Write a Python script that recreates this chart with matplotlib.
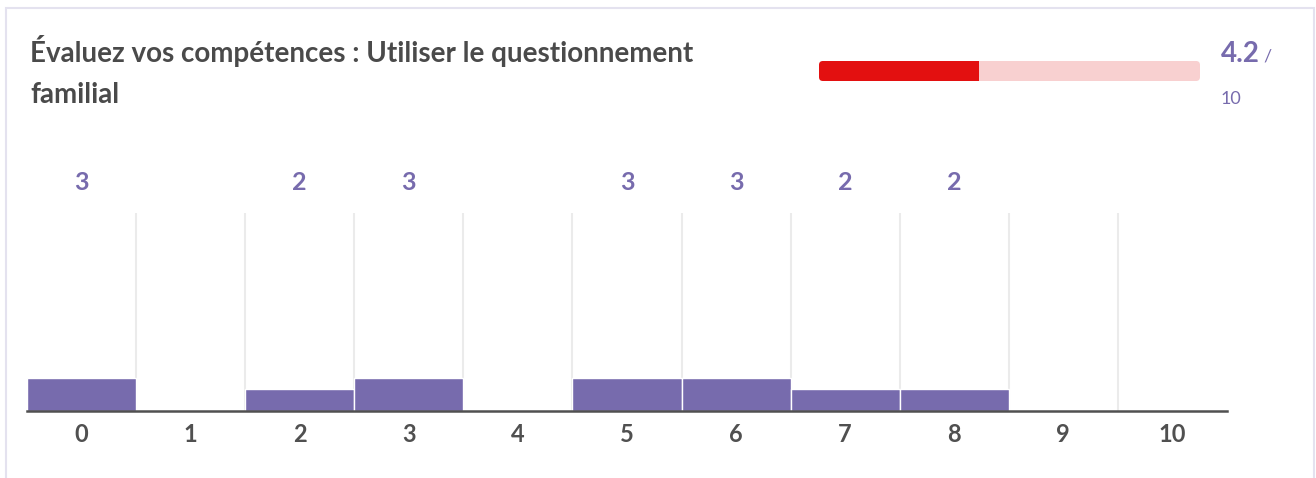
import matplotlib
matplotlib.use("Agg")
import matplotlib.pyplot as plt
from matplotlib.patches import FancyBboxPatch, Rectangle

plt.rcParams['font.family'] = ['Lato', 'DejaVu Sans']

# ---- data ----
title_lines = ["Évaluez vos compétences : Utiliser le questionnement", "familial"]
categories = ["0", "1", "2", "3", "4", "5", "6", "7", "8", "9", "10"]
counts = [3, 0, 2, 3, 0, 3, 3, 2, 2, 0, 0]
score = 4.2
score_max = 10

W, H = 1316, 478
DPI = 100
fig = plt.figure(figsize=(W / DPI, H / DPI), dpi=DPI)
fig.patch.set_facecolor('white')

def fx(px):
    return px / W

def fy(py):
    return 1 - py / H

PURPLE = '#776bad'
DARK = '#505050'

# card border
fig.add_artist(Rectangle((fx(6), fy(500)), fx(1314) - fx(6), fy(8) - fy(500),
                         transform=fig.transFigure, fill=False,
                         edgecolor='#e4e2ef', linewidth=1.5))

# title
fig.text(fx(30), fy(62), title_lines[0], fontsize=20, fontweight='bold',
         color='#4a4a4a', va='baseline', ha='left')
fig.text(fx(30), fy(103), title_lines[1], fontsize=20, fontweight='bold',
         color='#4a4a4a', va='baseline', ha='left')

# progress bar
pax = fig.add_axes([fx(819), fy(81), fx(1200) - fx(819), fy(61) - fy(81)])
pax.set_xlim(0, score_max)
pax.set_ylim(0, 1)
pax.axis('off')
bw_px = 1200 - 819
rs = 4 / (bw_px / score_max)
ma = (4 / 20) / rs
pax.add_patch(FancyBboxPatch((0, 0), score_max, 1,
                             boxstyle=f"round,pad=0,rounding_size={rs}",
                             mutation_aspect=ma, facecolor='#f8d0d0',
                             edgecolor='none'))
pax.add_patch(FancyBboxPatch((0, 0), score, 1,
                             boxstyle=f"round,pad=0,rounding_size={rs}",
                             mutation_aspect=ma, facecolor='#e31010',
                             edgecolor='none'))
pax.add_patch(Rectangle((score - 2 * rs, 0), 2 * rs, 1,
                        facecolor='#e31010', edgecolor='none'))

# score text
fig.text(fx(1221), fy(62), f"{score}", fontsize=20, fontweight='bold',
         color=PURPLE, va='baseline', ha='left')
fig.text(fx(1263), fy(62), "/", fontsize=13, color=PURPLE,
         va='baseline', ha='left')
fig.text(fx(1221), fy(104), f"{score_max}", fontsize=13, color=PURPLE,
         va='baseline', ha='left')

# main histogram
ax = fig.add_axes([fx(27), fy(411), fx(1227) - fx(27), fy(213) - fy(411)])
n = len(categories)
xs = list(range(n))
ymax = 198 / 11
ax.set_xlim(-0.5, n - 0.5)
ax.set_ylim(0, ymax)
for i in range(n - 1):
    ax.axvline(i + 0.5, color='#ebebeb', linewidth=1.5, zorder=1)
ax.bar(xs, counts, width=1.0, color=PURPLE, edgecolor='white',
       linewidth=1.0, zorder=2)
ax.axhline(0, color=DARK, linewidth=1.8, zorder=3, clip_on=False)
for s in ax.spines.values():
    s.set_visible(False)
ax.set_yticks([])
ax.set_xticks(xs)
ax.set_xticklabels(categories, fontsize=17, fontweight='bold', color=DARK)
ax.tick_params(axis='x', length=0, pad=9)

# value labels above chart
for i, c in enumerate(counts):
    if c > 0:
        fig.text(ax.transData.transform((i, 0))[0] / W, fy(190), str(c),
                 fontsize=18, fontweight='bold', color=PURPLE,
                 ha='center', va='baseline')

fig.savefig("out.png", dpi=DPI)
